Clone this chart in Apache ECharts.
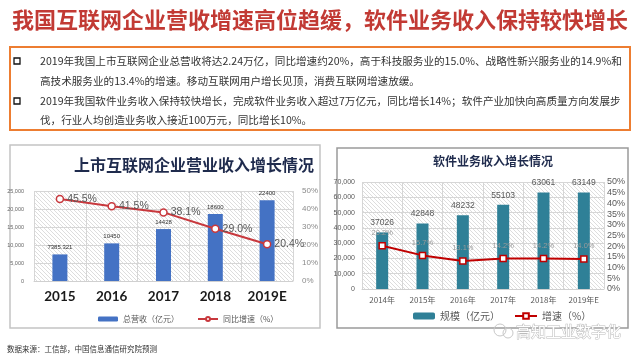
<!DOCTYPE html>
<html><head><meta charset="utf-8">
<script src="https://cdn.jsdelivr.net/npm/echarts@6/dist/echarts.min.js"></script>
<style>html,body{margin:0;padding:0;background:#fff}#c{width:640px;height:360px}</style>
</head><body><div id="c"></div>
<script>
// ---- data ----
const titleText = '我国互联网企业营收增速高位趋缓，软件业务收入保持较快增长';
const bulletLines = [
  '2019年我国上市互联网企业总营收将达2.24万亿，同比增速约20%，高于科技服务业的15.0%、战略性新兴服务业的14.9%和',
  '高技术服务业的13.4%的增速。移动互联网用户增长见顶，消费互联网增速放缓。',
  '2019年我国软件业务收入保持较快增长，完成软件业务收入超过7万亿元，同比增长14%；软件产业加快向高质量方向发展步',
  '伐，行业人均创造业务收入接近100万元，同比增长10%。'
];
const leftTitle = '上市互联网企业营业收入增长情况';
const leftYears = ['2015', '2016', '2017', '2018', '2019E'];
const leftRevenue = [7385.321, 10450, 14428, 18600, 22400];
const leftGrowth = [45.5, 41.5, 38.1, 29.0, 20.4];
const leftBarName = '总营收（亿元）';
const leftLineName = '同比增速（%）';

const rightTitle = '软件业务收入增长情况';
const rightYears = ['2014年', '2015年', '2016年', '2017年', '2018年', '2019年E'];
const rightRevenue = [37026, 42848, 48232, 55103, 63061, 63149];
const rightGrowth = [20.2, 15.7, 13.1, 14.2, 14.2, 14.0];
const rightBarName = '规模（亿元）';
const rightLineName = '增速（%）';

const sourceText = '数据来源：工信部，中国信息通信研究院预测';
const watermark = '高知工业数字化';

// ---- hatch pattern ----
function hatch() {
  const c = document.createElement('canvas');
  c.width = c.height = 4;
  const g = c.getContext('2d');
  g.fillStyle = '#ffffff'; g.fillRect(0, 0, 4, 4);
  g.strokeStyle = '#d4d4d4'; g.lineWidth = 0.8;
  g.beginPath();
  g.moveTo(0, 0); g.lineTo(4, 4);
  g.moveTo(-1, 3); g.lineTo(1, 5);
  g.moveTo(3, -1); g.lineTo(5, 1);
  g.stroke();
  return c;
}
const pat = { image: hatch(), repeat: 'repeat' };
const CJK = '"Noto Sans CJK SC", "Noto Sans", sans-serif';
const grey = '#595959';
const gridLine = { show: true, lineStyle: { color: '#d6d6d6', width: 1 } };

const chart = echarts.init(document.getElementById('c'), null, { renderer: 'canvas' });

const graphics = [
  { type: 'text', left: 'center', top: 9, style: { text: titleText, font: 'bold 22px ' + CJK, fill: '#c23a34' } },
  { type: 'rect', shape: { x: 10, y: 47, width: 620, height: 83 }, style: { fill: '#fff', stroke: '#ed7d31', lineWidth: 2 } },
  { type: 'rect', shape: { x: 10, y: 145, width: 310, height: 183 }, style: { fill: 'none', stroke: '#c4c4c4', lineWidth: 1.5 } },
  { type: 'rect', shape: { x: 337, y: 148, width: 291, height: 180 }, style: { fill: 'none', stroke: '#9a9a9a', lineWidth: 1.5 } },
  { type: 'text', x: 194, y: 165, style: { text: leftTitle, font: 'bold 16px ' + CJK, fill: '#1f2b4d', align: 'center', verticalAlign: 'middle' } },
  { type: 'text', x: 493, y: 161, style: { text: rightTitle, font: 'bold 12px ' + CJK, fill: '#1f2b4d', align: 'center', verticalAlign: 'middle' } },
  { type: 'text', x: 7, y: 349, style: { text: sourceText, font: '7.5px ' + CJK, fill: '#333', verticalAlign: 'middle' } },
  { type: 'circle', shape: { cx: 500, cy: 330, r: 6 }, style: { fill: 'none', stroke: '#c8c8c8', lineWidth: 1 } },
  { type: 'circle', shape: { cx: 508, cy: 333, r: 5 }, style: { fill: 'none', stroke: '#c8c8c8', lineWidth: 1 } },
  { type: 'text', x: 516, y: 331, style: { text: watermark, font: '15px ' + CJK, fill: '#fff', stroke: '#bcbcbc', lineWidth: 1, verticalAlign: 'middle' } }
];
const lineYs = [61, 81, 101, 120];
bulletLines.forEach((t, i) => {
  graphics.push({ type: 'text', x: 40, y: lineYs[i], style: { text: t, font: '10.6px ' + CJK, fill: '#333', verticalAlign: 'middle' } });
});
[0, 2].forEach(i => {
  graphics.push({ type: 'rect', shape: { x: 14, y: lineYs[i] - 3, width: 6, height: 6 }, style: { fill: '#fff', stroke: '#111', lineWidth: 1.3 } });
});

chart.setOption({
  animation: false,
  backgroundColor: '#fff',
  graphic: graphics,
  legend: [
    { data: [leftBarName, leftLineName], left: 93, top: 310, itemWidth: 20, itemHeight: 5, itemGap: 18,
      textStyle: { fontSize: 8, color: grey, fontFamily: CJK } },
    { data: [rightBarName, rightLineName], left: 408, top: 306, itemWidth: 22, itemHeight: 7, itemGap: 14,
      textStyle: { fontSize: 10, color: grey, fontFamily: CJK } }
  ],
  grid: [
    { left: 34, top: 191, width: 259, height: 90, show: true, backgroundColor: pat, borderWidth: 0 },
    { left: 362, top: 182, width: 242, height: 107, show: true, backgroundColor: pat, borderWidth: 0 }
  ],
  xAxis: [
    { type: 'category', gridIndex: 0, data: leftYears, axisTick: { show: false },
      axisLine: { lineStyle: { color: '#d0d0d0' } }, splitLine: Object.assign({ interval: 0 }, gridLine),
      axisLabel: { interval: 0, margin: 9, fontSize: 13.5, fontWeight: 'bold', color: '#1a1a1a', fontFamily: 'Lato, sans-serif' } },
    { type: 'category', gridIndex: 1, data: rightYears, axisTick: { show: false },
      axisLine: { lineStyle: { color: '#d0d0d0' } }, splitLine: Object.assign({ interval: 0 }, gridLine),
      axisLabel: { interval: 0, margin: 7, fontSize: 8, color: grey, fontFamily: CJK } }
  ],
  yAxis: [
    { type: 'value', gridIndex: 0, min: 0, max: 25000, interval: 5000, splitLine: gridLine,
      axisLabel: { margin: 10, fontSize: 5.5, color: '#666' } },
    { type: 'value', gridIndex: 0, min: 0, max: 50, interval: 10, splitLine: { show: false },
      axisLabel: { margin: 9, fontSize: 8, color: '#8a8a8a', formatter: '{value}%' } },
    { type: 'value', gridIndex: 1, min: 0, max: 70000, interval: 10000, splitLine: gridLine,
      axisLabel: { margin: 7, fontSize: 7, color: grey } },
    { type: 'value', gridIndex: 1, min: 0, max: 50, interval: 5, splitLine: { show: false },
      axisLabel: { margin: 3, fontSize: 9, color: grey, formatter: '{value}%' } }
  ],
  series: [
    { name: leftBarName, type: 'bar', xAxisIndex: 0, yAxisIndex: 0, data: leftRevenue, barWidth: 15,
      itemStyle: { color: '#4472c4' },
      label: { show: true, position: 'top', fontSize: 6, color: '#333', distance: 4 } },
    { name: leftLineName, type: 'line', xAxisIndex: 0, yAxisIndex: 1, data: leftGrowth,
      symbol: 'circle', symbolSize: 7, lineStyle: { color: '#c8383d', width: 2 },
      itemStyle: { color: '#fff', borderColor: '#c8383d', borderWidth: 1.5 },
      label: { show: true, position: 'right', distance: 3, fontSize: 10.5, color: grey,
        formatter: p => p.value.toFixed(1) + '%' } },
    { name: rightBarName, type: 'bar', xAxisIndex: 1, yAxisIndex: 2, data: rightRevenue, barWidth: 12,
      itemStyle: { color: '#2f8097' },
      label: { show: true, position: 'top', fontSize: 8.5, color: grey } },
    { name: rightLineName, type: 'line', xAxisIndex: 1, yAxisIndex: 3, data: rightGrowth, z: 5,
      symbol: 'rect', symbolSize: 6, lineStyle: { color: '#c00000', width: 2 },
      itemStyle: { color: '#fff', borderColor: '#c00000', borderWidth: 1.5 },
      label: { show: true, position: 'top', distance: 5, fontSize: 7.5, color: '#9a9a9a',
        formatter: p => p.value.toFixed(1) + '%' } }
  ]
});
</script></body></html>
